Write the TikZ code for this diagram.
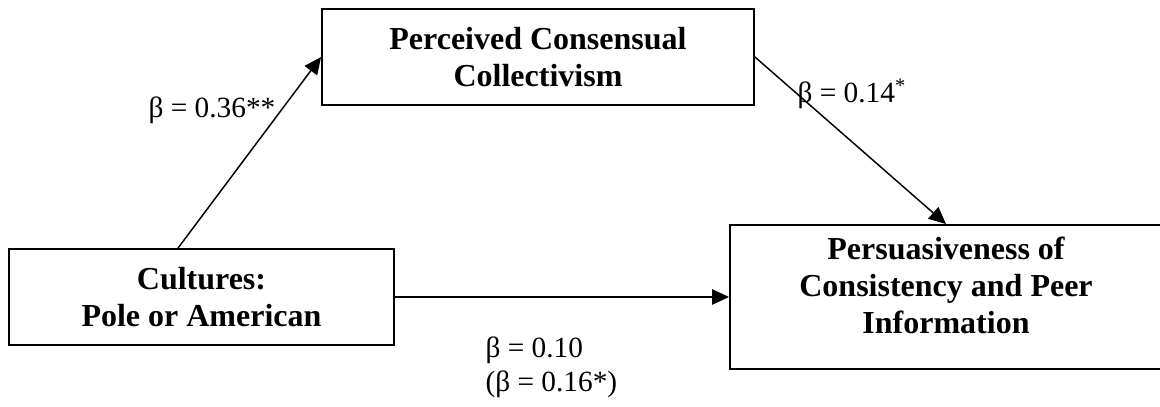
\documentclass[tikz,border=0pt]{standalone}
\usepackage{fontspec}
\setmainfont{Liberation Serif}
\usetikzlibrary{arrows.meta}
\tikzset{
  box/.style={draw, line width=0.7pt, minimum height=36pt, inner sep=0pt,
    align=center, font=\fontsize{12}{13.9}\selectfont\bfseries},
  coef/.style={inner sep=0pt, anchor=base west, font=\fontsize{11}{12.7}\selectfont},
  link/.style={line width=0.55pt, -{Triangle[length=6.4pt,width=5.8pt]}}
}

\begin{document}
\begin{tikzpicture}[x=0.375pt,y=-0.375pt]
\useasboundingbox (0,0) rectangle (1160,407);
\node[box, minimum width=162pt] (pcc) at (538,57) {Perceived Consensual\\Collectivism};
\node[box, minimum width=144.4pt] (cult) at (201.5,297) {Cultures:\\Pole or American};
\node[box, minimum width=163.5pt, minimum height=54pt] (pers) at (948,297) {};
\node[box, draw=none] (perstext) at (946,285) {Persuasiveness of\\Consistency and Peer\\Information};

\draw[link] ([xshift=-8.8pt]cult.north) -- (pcc.west);
\draw[link] (pcc.east) -- ([xshift=-0.75pt]pers.north);
\draw[link] (cult.east) -- (pers.west);

\node[coef] (b36) at (148,118) {β = 0.36**};
\node[coef] (b14) at (797,103) {β = 0.14\textsuperscript{*}};
\node[coef] (b10) at (485,358) {β = 0.10};
\node[coef] (b16) at (485,392) {(β = 0.16*)};
\end{tikzpicture}
\end{document}
